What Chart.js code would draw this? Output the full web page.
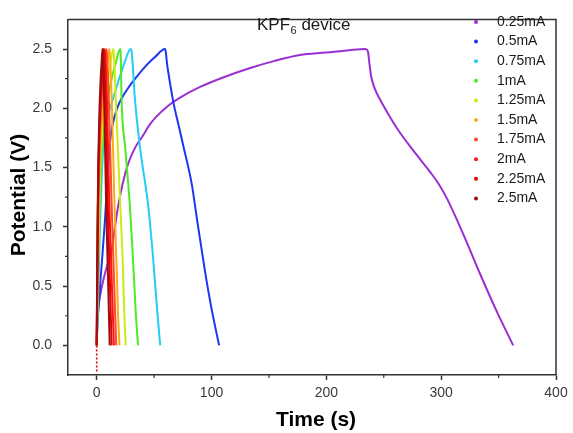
<!DOCTYPE html>
<html>
<head>
<meta charset="utf-8">
<script src="https://cdn.jsdelivr.net/npm/chart.js@4/dist/chart.umd.min.js"></script>
<style>
html,body{margin:0;padding:0;background:#fff;}
#wrap{width:573px;height:433px;}
</style>
</head>
<body>
<div id="wrap"><canvas id="c" width="573" height="433"></canvas></div>
<script>
// ---- Data (time in s, potential in V) ----
const seriesLabels = ['0.25mA','0.5mA','0.75mA','1mA','1.25mA','1.5mA','1.75mA','2mA','2.25mA','2.5mA'];
const seriesColors = ['#9A2FD2','#1E36F2','#22CDF6','#4FEA1F','#CDEB10','#FFAA14','#FF4A26','#FF1414','#E60000','#991010'];

const t025 = [0,0.3,1.1,3,6,9,12.7,15.5,18.6,22.5,27.3,33,40.3,46,52,62,72.6,90,110,133.7,155,177,200,220,234,236.2,237.5,239,242,247,254,261.6,276,290.6,298,305,319.6,334,348.7,362.7];
const v025 = [0,0.12,0.28,0.42,0.56,0.67,0.78,0.97,1.17,1.36,1.53,1.66,1.77,1.86,1.93,2.02,2.09,2.18,2.26,2.34,2.4,2.45,2.47,2.49,2.5,2.48,2.38,2.27,2.17,2.07,1.95,1.83,1.64,1.46,1.36,1.24,0.93,0.6,0.28,0];

const t05 = [0,0.5,1.3,4,7,9,11.3,14,18.6,21.5,28,36,43,50.5,59.5,60.1,61.2,62.4,66.8,71,75.5,82.8,87.1,94.4,100,106.6];
const v05 = [0,0.15,0.28,0.64,1.03,1.35,1.69,1.87,2.02,2.08,2.18,2.28,2.36,2.43,2.5,2.48,2.38,2.3,2.05,1.87,1.68,1.36,1.08,0.62,0.31,0];

const t075 = [0,1,2,3,4.5,6,9,14.2,18.6,24.4,29.6,30.5,31.5,33.1,38,44.7,49,52.8,55.3];
const v075 = [0,0.35,0.7,1.05,1.45,1.7,1.9,2.08,2.22,2.39,2.5,2.47,2.35,2.1,1.65,1.19,0.75,0.28,0];

const t1 = [0,0.7,1.5,2.5,3.5,5,7,10,13,16.5,20.5,20.9,21.6,25,28.8,31.5,34,36];
const v1 = [0,0.35,0.75,1.15,1.45,1.7,1.9,2.1,2.25,2.38,2.5,2.46,2.1,1.65,1.19,0.75,0.28,0];

const t125 = [0,0.5,1,1.8,2.8,4,6,8.5,11.5,14.5,15,16.5,18.5,20.5,22.5,24,25.3];
const v125 = [0,0.3,0.6,1.0,1.4,1.7,1.95,2.15,2.35,2.5,2.45,2.1,1.65,1.19,0.75,0.28,0];

const t15 = [0,0.4,0.9,1.5,2.3,3.3,5,7,9,11,11.5,13,15.5,17.2,18.5,19.8];
const v15 = [0,0.3,0.65,1.0,1.4,1.7,1.98,2.18,2.35,2.5,2.45,2.1,1.19,0.7,0.28,0];

const t175 = [0,0.35,0.8,1.3,2,2.9,4.2,5.8,7,8.5,9,10.5,13,14.6,16,17];
const v175 = [0,0.35,0.75,1.15,1.5,1.8,2.05,2.25,2.38,2.5,2.45,2.1,1.19,0.7,0.28,0];

const t2 = [0,0.3,0.7,1.1,1.7,2.5,3.5,4.8,5.8,7,7.5,8.8,11,12.6,14,15];
const v2 = [0,0.35,0.75,1.15,1.5,1.8,2.05,2.25,2.38,2.5,2.45,2.1,1.19,0.7,0.28,0];

const t225 = [0,0.25,0.6,1,1.5,2.2,3.1,4.1,5,6,6.4,7.6,9.6,11,12.2,13];
const v225 = [0,0.35,0.75,1.15,1.5,1.8,2.05,2.25,2.38,2.5,2.45,2.1,1.19,0.7,0.28,0];

const t25 = [0,0.2,0.5,0.85,1.3,1.9,2.6,3.4,4.2,5,5.3,6.4,8.2,9.5,10.6,11.3];
const v25 = [0,0.35,0.75,1.15,1.5,1.8,2.05,2.25,2.38,2.5,2.45,2.1,1.19,0.7,0.28,0];

// initial dotted segment of the record at t = 0
const tStart = [0,0];
const vStart = [-0.22,0.08];

const xTicks = [0,100,200,300,400];
const xMinor = [50,150,250,350];
const yTicks = [0,0.5,1.0,1.5,2.0,2.5];
const yMinor = [0.25,0.75,1.25,1.75,2.25];

const titleMain = 'KPF';
const titleSub = '6';
const titleRest = ' device';
const xTitle = 'Time (s)';
const yTitle = 'Potential (V)';

// ---- Build datasets ----
const tArrays = [t025,t05,t075,t1,t125,t15,t175,t2,t225,t25];
const vArrays = [v025,v05,v075,v1,v125,v15,v175,v2,v225,v25];
const FONT = '"Liberation Sans", Arial, sans-serif';

const datasets = seriesLabels.map((lab,i)=>({
  label: lab,
  data: tArrays[i].map((t,k)=>({x:t,y:vArrays[i][k]})),
  borderColor: seriesColors[i],
  backgroundColor: seriesColors[i],
  borderWidth: 2,
  pointRadius: 0,
  showLine: true,
  cubicInterpolationMode: 'monotone',
  order: 20 - i
}));
datasets.push({
  label: '_start',
  data: tStart.map((t,k)=>({x:t,y:vStart[k]})),
  borderColor: seriesColors[8],
  borderWidth: 1.6,
  borderDash: [2,2],
  pointRadius: 0,
  showLine: true,
  order: 0
});

const AXIS_COLOR = '#333333';

const decorPlugin = {
  id: 'decor',
  afterDraw(chart){
    const ctx = chart.ctx;
    const a = chart.chartArea;
    const xs = chart.scales.x, ys = chart.scales.y;
    ctx.save();
    // frame top/right
    ctx.strokeStyle = AXIS_COLOR;
    ctx.lineWidth = 1.5;
    ctx.beginPath();
    ctx.moveTo(a.left, a.top); ctx.lineTo(a.right, a.top); ctx.lineTo(a.right, a.bottom);
    ctx.stroke();
    // minor ticks
    ctx.lineWidth = 1.2;
    ctx.beginPath();
    xMinor.forEach(v=>{ const p = xs.getPixelForValue(v); ctx.moveTo(p, a.bottom); ctx.lineTo(p, a.bottom+3); });
    yMinor.forEach(v=>{ const p = ys.getPixelForValue(v); ctx.moveTo(a.left, p); ctx.lineTo(a.left-3, p); });
    ctx.stroke();

    // legend
    ctx.font = '14px ' + FONT;
    ctx.textBaseline = 'middle';
    ctx.textAlign = 'left';
    seriesLabels.forEach((lab,i)=>{
      const y = 22 + i*19.6;
      ctx.fillStyle = seriesColors[i];
      ctx.beginPath(); ctx.arc(476, y, 2, 0, Math.PI*2); ctx.fill();
      ctx.fillStyle = '#1a1a1a';
      ctx.fillText(lab, 497, y);
    });

    // title with subscript
    ctx.textBaseline = 'alphabetic';
    ctx.fillStyle = '#1a1a1a';
    ctx.font = '17px ' + FONT;
    let x = 257;
    ctx.fillText(titleMain, x, 30);
    x += ctx.measureText(titleMain).width;
    ctx.font = '11px ' + FONT;
    ctx.fillText(titleSub, x + 0.5, 34);
    x += ctx.measureText(titleSub).width + 0.5;
    ctx.font = '17px ' + FONT;
    ctx.fillText(titleRest, x, 30);

    // axis titles
    ctx.fillStyle = '#000';
    ctx.font = 'bold 21px ' + FONT;
    ctx.textAlign = 'center';
    ctx.textBaseline = 'middle';
    ctx.fillText(xTitle, 316, 420);
    ctx.translate(19, 195);
    ctx.rotate(-Math.PI/2);
    ctx.fillText(yTitle, 0, 0);
    ctx.restore();
  }
};

new Chart(document.getElementById('c'), {
  type: 'scatter',
  data: { datasets },
  options: {
    responsive: false,
    animation: false,
    devicePixelRatio: 1,
    layout: { padding: { left: 0, top: 12, right: 17, bottom: 0 } },
    plugins: { legend: { display: false }, tooltip: { enabled: false }, title: { display: false } },
    scales: {
      x: {
        type: 'linear', min: -25, max: 400,
        afterBuildTicks: s => { s.ticks = xTicks.map(v=>({value:v})); },
        afterFit: s => { s.height = 58; },
        grid: { display: true, drawOnChartArea: false, drawTicks: true, tickLength: 5, tickColor: AXIS_COLOR, tickWidth: 1.5 },
        border: { display: true, color: AXIS_COLOR, width: 1.5 },
        ticks: { color: '#3a3a3a', font: { family: FONT, size: 14 }, padding: 5, maxRotation: 0, callback: v => String(v) }
      },
      y: {
        type: 'linear', min: -0.25, max: 2.75,
        afterBuildTicks: s => { s.ticks = yTicks.map(v=>({value:v})); },
        afterFit: s => { s.width = 68; },
        grid: { display: true, drawOnChartArea: false, drawTicks: true, tickLength: 5, tickColor: AXIS_COLOR, tickWidth: 1.5 },
        border: { display: true, color: AXIS_COLOR, width: 1.5 },
        ticks: { color: '#3a3a3a', font: { family: FONT, size: 14 }, padding: 11, callback: v => Number(v).toFixed(1) }
      }
    }
  },
  plugins: [decorPlugin]
});
</script>
</body>
</html>
